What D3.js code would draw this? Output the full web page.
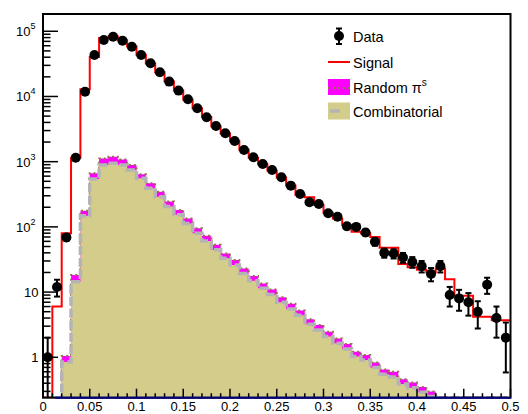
<!DOCTYPE html>
<html><head><meta charset="utf-8">
<script src="https://cdn.jsdelivr.net/npm/d3@7"></script>
<style>body{margin:0;background:#fff} svg{display:block}</style>
</head><body><svg id="c" width="528" height="414"></svg>
<script>
// ---- data (bins of width 0.01 from 0 to 0.5) ----
const binCenters = [0.005,0.015,0.025,0.035,0.045,0.055,0.065,0.075,0.085,0.095,
  0.105,0.115,0.125,0.135,0.145,0.155,0.165,0.175,0.185,0.195,
  0.205,0.215,0.225,0.235,0.245,0.255,0.265,0.275,0.285,0.295,
  0.305,0.315,0.325,0.335,0.345,0.355,0.365,0.375,0.385,0.395,
  0.405,0.415,0.425,0.435,0.445,0.455,0.465,0.475,0.485,0.495];
const binWidth = 0.01;
const dataCounts = [1,12,69,1150,11800,43300,73600,82600,71800,58000,
  43300,32300,23500,16900,12300,9060,6590,4800,3530,2730,
  2080,1510,1170,922,746,577,429,320,238,224,
  162,143,102,100,82,59,40,39,34,29,
  25,19,25,9,8,7,5,13,4,2];
const signalValues = [0,6,80,1150,12900,40400,79000,84000,73000,58500,
  43500,32000,23500,17000,12300,9000,6600,4850,3500,2700,
  2050,1530,1150,910,730,570,430,310,285,217,
  165,135,107,84,80,70,48,48,27,24,
  22,20,23,15.7,8.8,8.8,4.2,4.2,3.7,3.7];
const combValues = [0,0,0.85,14.4,148,543,890,945,890,747,
  556,391,290,205,153,113,80,61,44.5,33,
  26,19.3,14.9,11.4,9.2,7.0,5.5,4.4,3.2,2.63,
  2.08,1.64,1.34,1.03,0.91,0.70,0.55,0.50,0.39,0.34,
  0.29,0.25,0,0,0,0,0,0,0,0];
const randomValues = [0,0,0.2,3.9,29,122,230,245,190,143,
  85,75,57,39,29,22,15,12,8.5,6,
  5,3.7,2.8,2.2,1.8,1.3,1.1,0.8,0.63,0.5,
  0.39,0.31,0.26,0.19,0.17,0.13,0.10,0.10,0.07,0.07,
  0.06,0.05,0,0,0,0,0,0,0,0];
const xTickValues = [0,0.05,0.1,0.15,0.2,0.25,0.3,0.35,0.4,0.45,0.5];
const xTickLabels = ["0","0.05","0.1","0.15","0.2","0.25","0.3","0.35","0.4","0.45","0.5"];
const yDecades = [1,10,100,1000,10000,100000];
const yDecadeBase = ["1","10","10","10","10","10"];
const yDecadeExp = ["","","2","3","4","5"];
const legendLabels = ["Data","Signal","Random \u03c0","Combinatorial"];
const legendSup = ["","","s",""];

// ---- colours ----
const cMagenta = "#ff00ff", cBrown = "#966e50", cKhaki = "#d3cc8b", cGray = "#b4b4b4", cRed = "#ff0000";

const svg = d3.select("#c");
const L = 43, R = 510.5, T = 14, B = 397.7;
const x = d3.scaleLinear().domain([0, 0.5]).range([L, R]);
const y = d3.scaleLog().domain([0.24, 1.84e5]).range([B, T]).clamp(true);
const yv = v => y(Math.max(v, 0.001));

svg.append("clipPath").attr("id","clip").append("rect")
  .attr("x", L).attr("y", T).attr("width", R - L).attr("height", B - T);
const g = svg.append("g").attr("clip-path","url(#clip)");

function stepPts(vals) {
  const pts = vals.map((v,i) => [binCenters[i] - binWidth/2, v]);
  pts.push([binCenters[binCenters.length-1] + binWidth/2, vals[vals.length-1]]);
  return pts;
}
const stepLine = d3.line().curve(d3.curveStepAfter).x(d => x(d[0])).y(d => yv(d[1]));
const stepArea = d3.area().curve(d3.curveStepAfter).x(d => x(d[0])).y0(B).y1(d => yv(d[1]));

const totals = combValues.map((c,i) => c + randomValues[i]);
// random pi^s (stacked on combinatorial)
g.append("path").datum(stepPts(totals)).attr("d", stepArea).attr("fill", cMagenta);
g.append("path").datum(stepPts(totals)).attr("d", stepLine).attr("fill","none")
  .attr("stroke", cBrown).attr("stroke-width", 2).attr("stroke-dasharray","2,3");
// combinatorial
g.append("path").datum(stepPts(combValues)).attr("d", stepArea).attr("fill", cKhaki);
g.append("path").datum(stepPts(combValues)).attr("d", stepLine).attr("fill","none")
  .attr("stroke", cGray).attr("stroke-width", 3.5).attr("stroke-dasharray","9,3");
// signal
g.append("path").datum(stepPts(signalValues)).attr("d", stepLine).attr("fill","none")
  .attr("stroke", cRed).attr("stroke-width", 2);

// ---- axes / frame ----
const ax = svg.append("g").attr("stroke","#000").attr("stroke-width",1.5);
// x ticks
d3.range(0, 51).forEach(k => {
  const v = k / 100, major = (k % 5 === 0);
  ax.append("line").attr("x1", x(v)).attr("x2", x(v)).attr("y1", B).attr("y2", B - (major ? 9 : 4.5));
});
// y ticks
[0.1,1,10,100,1000,10000,100000].forEach(d => {
  for (let k = 1; k <= 9; k++) {
    const v = d * k;
    if (v < 0.24 || v > 1.84e5) continue;
    ax.append("line").attr("x1", L).attr("x2", L + (k === 1 ? 15 : 7.5)).attr("y1", y(v)).attr("y2", y(v));
  }
});
// frame
svg.append("rect").attr("x", L).attr("y", T).attr("width", R - L).attr("height", B - T)
  .attr("fill","none").attr("stroke","#000").attr("stroke-width",2);
svg.append("line").attr("x1", x(0.013)).attr("x2", R).attr("y1", B).attr("y2", B)
  .attr("stroke","#000080").attr("stroke-width",2);

// tick labels
const fontAx = "'Liberation Sans Narrow','Arial Narrow','Liberation Sans',Arial,sans-serif";
svg.append("g").selectAll("text").data(xTickValues).join("text")
  .attr("x", d => x(d)).attr("y", 410.5).attr("text-anchor","middle")
  .attr("font-family", fontAx).attr("font-size", 13).text((d,i) => xTickLabels[i]);
const yl = svg.append("g").selectAll("text").data(yDecades).join("text")
  .attr("x", (d,i) => yDecadeExp[i] ? 35.5 : 38.5).attr("y", d => y(d) + 5)
  .attr("text-anchor","end").attr("font-family", fontAx).attr("font-size", 13);
yl.append("tspan").text((d,i) => yDecadeBase[i]);
yl.filter((d,i) => yDecadeExp[i]).append("tspan").attr("dy", -7).attr("font-size", 9)
  .text(d => yDecadeExp[yDecades.indexOf(d)]);

// data points
const dp = svg.append("g");
dataCounts.forEach((n, i) => {
  const cx = x(binCenters[i]), e = Math.sqrt(n);
  const y1 = yv(n + e), y2 = yv(n - e);
  dp.append("line").attr("x1", cx).attr("x2", cx).attr("y1", y1).attr("y2", y2).attr("stroke","#000").attr("stroke-width",2);
  dp.append("line").attr("x1", cx-3).attr("x2", cx+3).attr("y1", y1).attr("y2", y1).attr("stroke","#000").attr("stroke-width",2);
  if (n - e > 0.24) dp.append("line").attr("x1", cx-3).attr("x2", cx+3).attr("y1", y2).attr("y2", y2).attr("stroke","#000").attr("stroke-width",2);
  dp.append("circle").attr("cx", cx).attr("cy", yv(n)).attr("r", 5).attr("fill","#000");
});

// legend
const lg = svg.append("g");
const rowY = [36, 62, 87, 111];
const sx0 = 328, sx1 = 350;
lg.append("line").attr("x1",339).attr("x2",339).attr("y1",rowY[0]-7.5).attr("y2",rowY[0]+8).attr("stroke","#000").attr("stroke-width",2);
lg.append("line").attr("x1",336).attr("x2",342).attr("y1",rowY[0]-7.5).attr("y2",rowY[0]-7.5).attr("stroke","#000").attr("stroke-width",2);
lg.append("line").attr("x1",336).attr("x2",342).attr("y1",rowY[0]+8).attr("y2",rowY[0]+8).attr("stroke","#000").attr("stroke-width",2);
lg.append("circle").attr("cx",339).attr("cy",rowY[0]).attr("r",5).attr("fill","#000");
lg.append("line").attr("x1",sx0).attr("x2",sx1).attr("y1",rowY[1]).attr("y2",rowY[1]).attr("stroke",cRed).attr("stroke-width",2);
lg.append("rect").attr("x",sx0).attr("y",rowY[2]-8).attr("width",sx1-sx0).attr("height",16).attr("fill",cMagenta);
lg.append("line").attr("x1",sx0).attr("x2",sx1).attr("y1",rowY[2]+1).attr("y2",rowY[2]+1).attr("stroke",cBrown).attr("stroke-width",2).attr("stroke-dasharray","2,3");
lg.append("rect").attr("x",sx0).attr("y",rowY[3]-8.5).attr("width",sx1-sx0).attr("height",17).attr("fill",cKhaki);
lg.append("line").attr("x1",sx0+2).attr("x2",sx0+12).attr("y1",rowY[3]).attr("y2",rowY[3]).attr("stroke",cGray).attr("stroke-width",3.5);
const lt = lg.selectAll("text.l").data(legendLabels).join("text").attr("class","l")
  .attr("x", 353).attr("y", (d,i) => rowY[i] + 5.5)
  .attr("font-family","'Liberation Sans',Arial,sans-serif").attr("font-size",14.5);
lt.append("tspan").text(d => d);
lt.filter((d,i) => legendSup[i]).append("tspan").attr("dy",-7).attr("font-size",10)
  .text(d => legendSup[legendLabels.indexOf(d)]);
</script></body></html>
